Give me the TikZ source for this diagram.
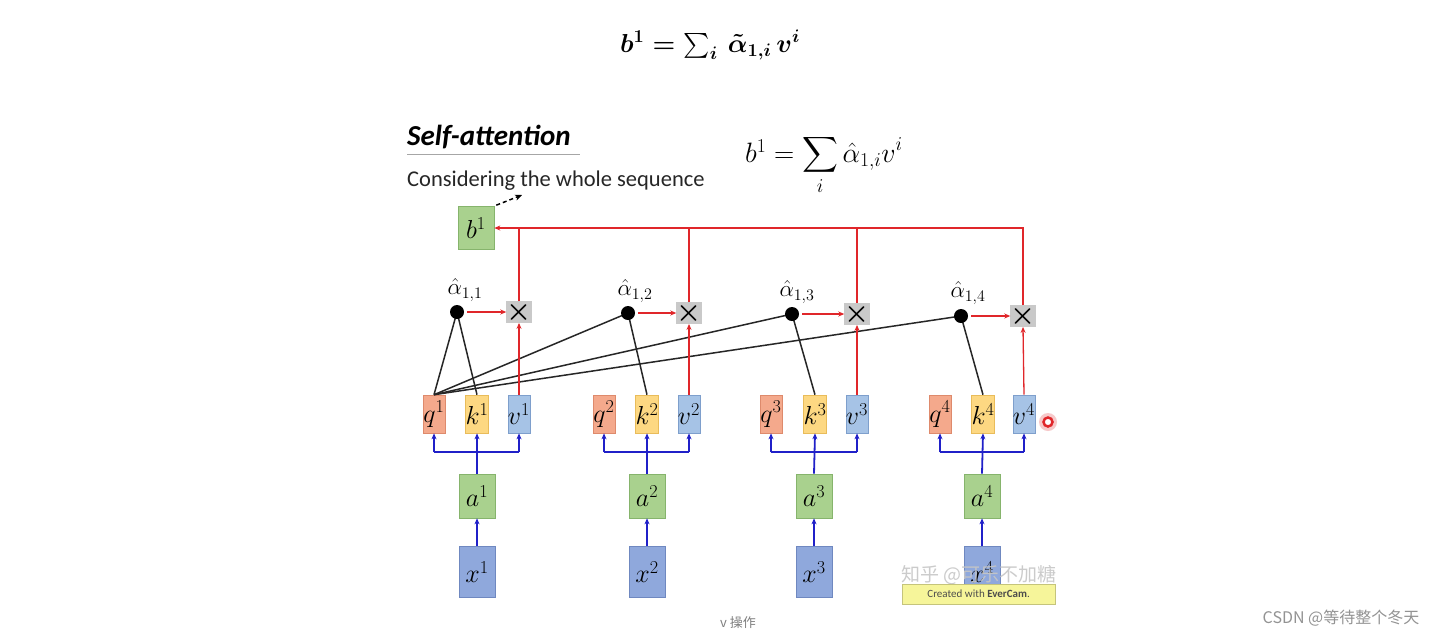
\RequirePackage{fix-cm}
\documentclass[tikz,border=0pt]{standalone}
\usepackage{amsmath}
\usepackage{fontspec}
\setmainfont{Carlito}
\newfontfamily\cjkfont{Noto Sans CJK SC}
\usetikzlibrary{arrows.meta}
\definecolor{qfill}{HTML}{F4A98C}\definecolor{qline}{HTML}{DE8A6C}
\definecolor{kfill}{HTML}{FDD882}\definecolor{kline}{HTML}{E9BC5A}
\definecolor{vfill}{HTML}{A6C3E6}\definecolor{vline}{HTML}{7E9FCC}
\definecolor{gfill}{HTML}{A9D18E}\definecolor{gline}{HTML}{86B46C}
\definecolor{xfill}{HTML}{8FA8DC}\definecolor{xline}{HTML}{6F88C0}
\definecolor{mfill}{HTML}{C9C9C9}
\definecolor{redc}{HTML}{E0262A}
\definecolor{bluec}{HTML}{2020C8}
\definecolor{evy}{HTML}{F6F59A}
\tikzset{
  vbox/.style={draw, line width=0.6pt, minimum width=22pt, minimum height=38pt, inner sep=0pt, font=\fontsize{26}{26}\selectfont},
  qb/.style={vbox, fill=qfill, draw=qline},
  kb/.style={vbox, fill=kfill, draw=kline},
  vb/.style={vbox, fill=vfill, draw=vline},
  ab/.style={vbox, fill=gfill, draw=gline, minimum width=36pt, minimum height=44pt},
  xb/.style={vbox, fill=xfill, draw=xline, minimum width=36pt, minimum height=51pt},
  mulbox/.style={fill=mfill, minimum width=21pt, minimum height=21pt, inner sep=0pt, font=\fontsize{28}{28}\selectfont\boldmath},
  dotn/.style={circle, fill=black, minimum size=14pt, inner sep=0pt},
  alab/.style={font=\fontsize{23}{23}\selectfont},
  rline/.style={draw=redc, line width=1.3pt},
  rarrow/.style={rline, -{Stealth[length=6pt,width=5pt]}},
  bline/.style={draw=bluec, line width=1.8pt},
  barrow/.style={bline, -{Stealth[length=6pt,width=5pt]}},
  kline/.style={draw=black!85, line width=1.5pt},
}
\begin{document}
\begin{tikzpicture}[x=1pt,y=-1pt]
\fill[white] (0,0) rectangle (1454,638);
\useasboundingbox (0,0) rectangle (1454,638);

% top formula
\node[font=\fontsize{26}{26}\selectfont\boldmath] (topf) at (710,45) {$b^{1} = \sum_{i}\, \tilde{\alpha}_{1,i}\, v^{i}$};

% title
\node[anchor=west, font=\fontsize{29}{29}\selectfont\bfseries\itshape, inner sep=0pt] (title) at (407,137) {Self-attention};
\draw[gray!70, line width=1pt] (407,154) -- (580,154);
\node[anchor=west, font=\fontsize{22.5}{22.5}\selectfont, text=black!85, inner sep=0pt] (cons) at (407,181) {Considering the whole sequence};
\node[font=\fontsize{28}{28}\selectfont] (form) at (824,165) {$b^1 = \displaystyle\sum_{i} \hat{\alpha}_{1,i} v^i$};

% b1
\node[ab, minimum height=43pt] (b1) at (476,228) {$b^1$};
\coordinate (dashend) at (522,195);
\draw[black, line width=1.5pt, dashed, dash pattern=on 4pt off 3pt, -{Stealth[length=7pt,width=6pt]}] (b1.north east) ++(2,-1) coordinate (dstart) (dstart) -- (dashend);

% q k v boxes
\foreach \i/\xq/\xk/\xv/\xa in {1/434/477/519/477, 2/604/647/689/647, 3/771/815/857/814, 4/940/983/1024/982}{
  \node[qb] (q\i) at (\xq,414) {$q^{\i}$};
  \node[kb] (k\i) at (\xk,414) {$k^{\i}$};
  \node[vb] (v\i) at (\xv,414) {$v^{\i}$};
  \node[ab] (a\i) at (\xa,496) {$a^{\i}$};
  \node[xb] (x\i) at (\xa,572) {$x^{\i}$};
  \draw[barrow] (x\i.north) -- (a\i.south);
  \draw[barrow] (a\i.north) -- (k\i.south);
  \draw[bline] ([yshift=-19pt]q\i.south) -- ([yshift=-19pt]v\i.south);
  \draw[barrow] ([yshift=-19pt]q\i.south) -- (q\i.south);
  \draw[barrow] ([yshift=-19pt]v\i.south) -- (v\i.south);
}

% multiply boxes and dots
\node[mulbox] (m1) at (519,312) {$\times$};
\node[mulbox] (m2) at (689,313) {$\times$};
\node[mulbox] (m3) at (857,314) {$\times$};
\node[mulbox] (m4) at (1023,316) {$\times$};

\coordinate (d1c) at (457,312);
\coordinate (d2c) at (628,313);
\coordinate (d3c) at (792,314);
\coordinate (d4c) at (961,316);

% black lines
\draw[kline] (q1.north) -- (d1c) -- (k1.north);
\draw[kline] (q1.north) -- (d2c) -- (k2.north);
\draw[kline] (q1.north) -- (d3c) -- (k3.north);
\draw[kline] (q1.north) -- (d4c) -- (k4.north);

\node[dotn] (d1) at (d1c) {};
\node[dotn] (d2) at (d2c) {};
\node[dotn] (d3) at (d3c) {};
\node[dotn] (d4) at (d4c) {};

\node[alab] (l1) at (465,290) {$\hat{\alpha}_{1,1}$};
\node[alab] (l2) at (635,291) {$\hat{\alpha}_{1,2}$};
\node[alab] (l3) at (797,292) {$\hat{\alpha}_{1,3}$};
\node[alab] (l4) at (968,293) {$\hat{\alpha}_{1,4}$};

% red arrows
\foreach \i in {1,2,3,4}{
  \draw[rarrow, shorten <=3pt] (d\i.east) -- (m\i.west);
  \draw[rarrow] (v\i.north) -- (m\i.south);
}
\draw[rarrow] (m4.north) |- (b1.east);
\draw[rline] (m1.north) -- (m1.north |- b1.east);
\draw[rline] (m2.north) -- (m2.north |- b1.east);
\draw[rline] (m3.north) -- (m3.north |- b1.east);

% cursor mark
\fill[redc!25] (1048,422) circle (9pt);
\node[circle, draw=redc, line width=2.5pt, minimum size=9pt, inner sep=0pt, fill=white] (cursor) at (1048,422) {};

% watermarks
\node[anchor=west, font=\cjkfont\fontsize{19}{19}\selectfont, text=gray!45, opacity=0.9] (zh) at (898,575) {知乎 @可乐不加糖};
\node[anchor=north west, fill=evy, draw=evy!80!black, line width=0.3pt, minimum width=153pt, minimum height=20pt, inner sep=2pt, font=\fontsize{11}{11}\selectfont, text=black!70, text depth=0pt] (ever) at (902,584) {Created with \textbf{EverCam}.};

\node[font=\cjkfont\fontsize{13}{13}\selectfont, text=gray] (op) at (738,623) {v 操作};
\node[font=\cjkfont\fontsize{16}{16}\selectfont, text=gray!85] (csdn) at (1341,618) {CSDN @等待整个冬天};
\end{tikzpicture}
\end{document}
